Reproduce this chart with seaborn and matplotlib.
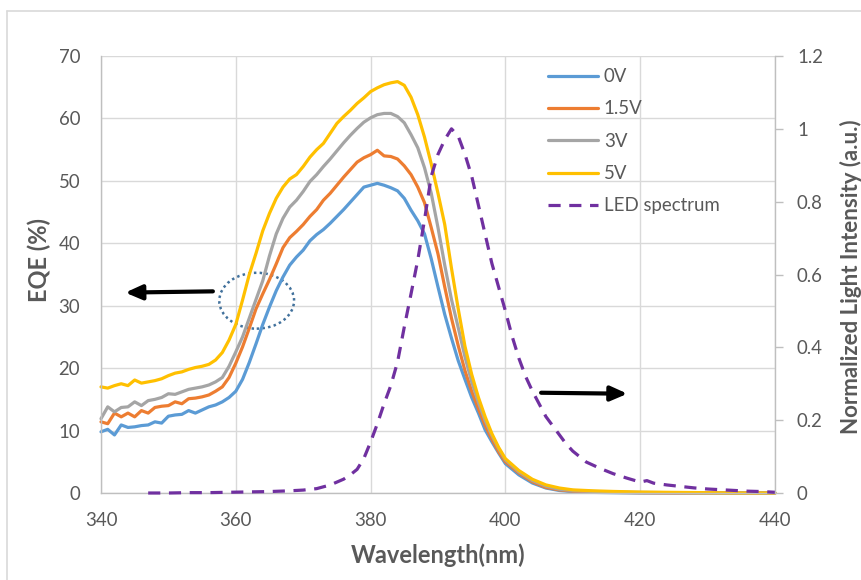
import matplotlib
matplotlib.use("Agg")
import matplotlib.pyplot as plt
import seaborn as sns
from matplotlib.patches import Ellipse
from matplotlib.lines import Line2D
from matplotlib.ticker import MultipleLocator, FixedLocator

# wavelength grid for the EQE curves (nm)
wl = [340, 341, 342, 343, 344, 345, 346, 347, 348, 349,
      350, 351, 352, 353, 354, 355, 356, 357, 358, 359,
      360, 361, 362, 363, 364, 365, 366, 367, 368, 369,
      370, 371, 372, 373, 374, 375, 376, 377, 378, 379,
      380, 381, 382, 383, 384, 385, 386, 387, 388, 389,
      390, 391, 392, 393, 394, 395, 396, 397, 398, 399, 400,
      402, 404, 406, 408, 410, 413, 416, 420, 425, 430, 435, 440]

eqe_0v = [9.8, 10.2, 9.3, 10.9, 10.5, 10.6, 10.8, 10.9, 11.4, 11.2,
          12.3, 12.5, 12.6, 13.2, 12.8, 13.3, 13.8, 14.1, 14.6, 15.3,
          16.3, 18.2, 20.9, 23.9, 27.0, 29.8, 32.4, 34.6, 36.5, 37.8,
          38.9, 40.4, 41.4, 42.2, 43.2, 44.3, 45.4, 46.6, 47.8, 49.0,
          49.3, 49.6, 49.3, 48.9, 48.4, 47.2, 45.3, 43.6, 41.5, 37.5,
          33.0, 28.6, 24.8, 21.2, 18.2, 15.3, 12.8, 10.1, 8.2, 6.4, 4.7,
          2.9, 1.6, 0.8, 0.4, 0.2, 0.1, 0.05, 0.0, 0.0, 0.0, 0.0, 0.0]

eqe_15v = [11.4, 11.1, 12.8, 12.2, 12.8, 12.2, 13.2, 12.8, 13.7, 13.9,
           14.0, 14.6, 14.3, 15.1, 15.2, 15.4, 15.7, 16.3, 17.0, 18.5,
           20.8, 23.4, 26.4, 29.5, 31.9, 34.2, 36.7, 39.3, 40.9, 41.9,
           43.0, 44.3, 45.4, 46.9, 48.0, 49.3, 50.6, 51.8, 53.0, 53.7,
           54.2, 54.9, 54.0, 53.9, 53.5, 52.4, 51.0, 49.0, 46.5, 42.5,
           38.3, 33.0, 28.0, 23.6, 19.6, 16.3, 13.5, 10.8, 8.6, 6.6, 5.0,
           3.2, 1.8, 0.9, 0.5, 0.3, 0.2, 0.1, 0.05, 0.0, 0.0, 0.0, 0.0]

eqe_3v = [11.9, 13.8, 13.0, 13.7, 13.8, 14.6, 14.0, 14.8, 15.0, 15.3,
          15.9, 15.8, 16.2, 16.6, 16.8, 17.0, 17.3, 17.8, 18.5, 20.3,
          22.6, 25.0, 28.0, 31.0, 34.0, 38.0, 41.5, 44.0, 45.8, 46.9,
          48.3, 49.9, 51.0, 52.3, 53.5, 54.8, 56.1, 57.3, 58.4, 59.4,
          60.1, 60.6, 60.8, 60.8, 60.3, 59.3, 57.4, 55.3, 52.1, 48.0,
          42.5, 36.5, 31.0, 26.5, 21.8, 17.8, 14.5, 11.6, 9.2, 7.1, 5.3,
          3.4, 2.0, 1.1, 0.6, 0.4, 0.25, 0.15, 0.1, 0.05, 0.0, 0.0, 0.0]

eqe_5v = [17.0, 16.8, 17.2, 17.5, 17.2, 18.1, 17.6, 17.8, 18.0, 18.3,
          18.8, 19.2, 19.4, 19.8, 20.1, 20.3, 20.6, 21.3, 22.5, 24.5,
          27.0, 30.9, 35.0, 38.4, 42.0, 44.8, 47.2, 49.0, 50.3, 51.0,
          52.3, 53.8, 55.0, 56.0, 57.6, 59.2, 60.3, 61.3, 62.4, 63.3,
          64.3, 64.9, 65.4, 65.7, 65.9, 65.3, 63.4, 60.6, 57.0, 52.7,
          48.0, 43.0, 36.0, 29.5, 23.5, 19.0, 15.3, 12.2, 9.5, 7.3, 5.5,
          3.6, 2.2, 1.3, 0.8, 0.5, 0.35, 0.25, 0.15, 0.1, 0.05, 0.0, 0.0]

# LED emission spectrum (normalized, right axis)
led_wl = [347, 350, 353, 356, 359, 362, 365, 368, 370, 372, 374, 376,
          377, 378, 379, 380, 381, 382, 383, 384, 385, 386, 387, 388, 389,
          390, 391, 392, 393, 394, 395, 396, 397, 398, 399, 400, 401, 402,
          403, 404, 405, 406, 407, 408, 409, 410,
          412, 414, 416, 418, 420, 421, 422, 424, 426, 428, 430, 432, 434,
          436, 438, 440]
led_int = [0.0, 0.0, 0.001, 0.001, 0.002, 0.003, 0.004, 0.006, 0.008, 0.012, 0.022, 0.038,
           0.05, 0.065, 0.095, 0.14, 0.19, 0.245, 0.295, 0.36, 0.456, 0.547, 0.64, 0.75, 0.87,
           0.93, 0.97, 1.0, 0.98, 0.93, 0.87, 0.79, 0.71, 0.63, 0.565, 0.5, 0.43, 0.37,
           0.32, 0.28, 0.245, 0.21, 0.185, 0.16, 0.135, 0.115,
           0.085, 0.068, 0.053, 0.041, 0.03, 0.034, 0.027, 0.022, 0.018, 0.014, 0.011, 0.009, 0.007,
           0.005, 0.004, 0.002]

right_ticks = [0, 0.2, 0.4, 0.6, 0.8, 1.0, 1.2]
right_labels = ['0', '0.2', '0.4', '0.6', '0.8', '1', '1.2']

series = [("0V", eqe_0v, "#5B9BD5"),
          ("1.5V", eqe_15v, "#ED7D31"),
          ("3V", eqe_3v, "#A5A5A5"),
          ("5V", eqe_5v, "#FFC000")]

sns.set_style("white")
plt.rcParams['font.family'] = ['Lato', 'DejaVu Sans']
txt = '#595959'
grid_c = '#D9D9D9'
axis_c = '#BFBFBF'

fig = plt.figure(figsize=(8.62, 5.8), dpi=100)
ax = fig.add_axes([101 / 862, 1 - 493 / 580, 674 / 862, 437 / 580])

for name, vals, col in series:
    sns.lineplot(x=wl, y=vals, ax=ax, color=col, lw=2.3, label=name, sort=False, clip_on=False)

ax.set_xlim(340, 440)
ax.set_ylim(0, 70)
ax.xaxis.set_major_locator(FixedLocator([340, 360, 380, 400, 420, 440]))
ax.xaxis.set_minor_locator(MultipleLocator(4))
ax.yaxis.set_major_locator(MultipleLocator(10))
ax.grid(True, which='major', color=grid_c, lw=1.0)
ax.set_axisbelow(True)
ax.tick_params(axis='y', length=0, pad=15, labelsize=13.4, labelcolor=txt)
ax.tick_params(axis='x', which='major', direction='out', length=5, width=1, color=axis_c,
               pad=9, labelsize=13.4, labelcolor=txt)
ax.tick_params(axis='x', which='minor', direction='in', length=3.6, width=1, color=axis_c)
for s in ['top', 'right']:
    ax.spines[s].set_visible(False)
for s in ['left', 'bottom']:
    ax.spines[s].set_color(axis_c)
    ax.spines[s].set_linewidth(1.0)

ax.set_xlabel('Wavelength(nm)', fontsize=17, fontweight='bold', color=txt, va='center')
ax.xaxis.set_label_coords(0.5, -0.142)
ax.set_ylabel('EQE (%)', fontsize=17, fontweight='bold', color=txt)
ax.yaxis.label.set_va('center')
ax.yaxis.set_label_coords(-0.091, 0.533)

# right axis: LED spectrum
ax2 = ax.twinx()
sns.lineplot(x=led_wl, y=led_int, ax=ax2, color='#7030A0', lw=2.3, label='LED spectrum',
             sort=False, clip_on=False)
ax2.lines[-1].set_dashes((3.8, 2.7))
ax2.set_ylim(0, 1.2)
ax2.yaxis.set_major_locator(FixedLocator(right_ticks))
ax2.set_yticklabels(right_labels)
ax2.tick_params(axis='y', direction='out', length=5.8, width=1, color=axis_c,
                pad=10, labelsize=13.4, labelcolor=txt)
for s in ['top', 'left', 'bottom']:
    ax2.spines[s].set_visible(False)
ax2.spines['right'].set_color(axis_c)
ax2.spines['right'].set_linewidth(1.0)
ax2.set_ylabel('Normalized Light Intensity (a.u.)', fontsize=16, fontweight='bold',
               color=txt, rotation=90)
ax2.yaxis.label.set_va('center')
ax2.yaxis.set_label_coords(1.1128, 0.495)

# annotations: dotted ellipse and arrows
ax.add_patch(Ellipse((363.1, 30.8), 11.1, 8.95, fill=False, ls=(0, (1, 1.3)),
                     lw=1.8, ec='#41719C'))
ax.annotate('', xy=(343.6, 32.1), xytext=(356.6, 32.3),
            arrowprops=dict(arrowstyle='-|>,head_length=0.5,head_width=0.22',
                            lw=3, color='black', mutation_scale=20, shrinkA=0, shrinkB=0))
ax.annotate('', xy=(418.1, 15.9), xytext=(405.3, 16.06),
            arrowprops=dict(arrowstyle='-|>,head_length=0.5,head_width=0.22',
                            lw=3, color='black', mutation_scale=20, shrinkA=0, shrinkB=0))

# legend with all five entries
h1, l1 = ax.get_legend_handles_labels()
h2, l2 = ax2.get_legend_handles_labels()
ax.get_legend().remove()
ax2.get_legend().remove()
leg = ax2.legend(h1 + h2, l1 + l2, loc='upper left', bbox_to_anchor=(0.663, 0.972),
                 frameon=False, fontsize=13.4, handlelength=2.7, handletextpad=0.3,
                 labelspacing=0.82, borderpad=0, borderaxespad=0)
for t in leg.get_texts():
    t.set_color(txt)

# outer chart border
fig.add_artist(Line2D([7 / 862, 1], [1 - 11 / 580, 1 - 11 / 580], color=grid_c, lw=1.2,
                      transform=fig.transFigure))
fig.add_artist(Line2D([7 / 862, 7 / 862], [0, 1 - 11 / 580], color=grid_c, lw=1.2,
                      transform=fig.transFigure))

plt.savefig('out.png', dpi=100)
plt.close()
